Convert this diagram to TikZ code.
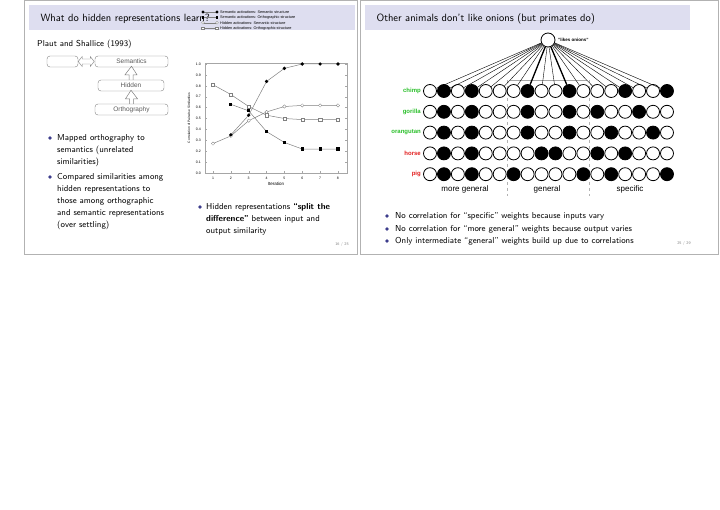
\documentclass[tikz,border=0pt]{standalone}
\usepackage{fontspec}
\setmainfont{Latin Modern Sans}
\setsansfont{Liberation Sans}
\usetikzlibrary{arrows.meta}
\definecolor{titlebg}{RGB}{222,222,240}
\definecolor{bul}{RGB}{60,60,140}
\definecolor{prim}{RGB}{40,190,40}
\definecolor{oth}{RGB}{225,30,30}
\tikzset{
 txt/.style={anchor=west,inner sep=0,font=\fontsize{8.6}{10}\selectfont},
 bullet/.style={circle,fill=bul,inner sep=0,minimum size=3.6pt},
 lbox/.style={draw=gray,rounded corners=3pt,inner sep=0,font=\sffamily\fontsize{6.5}{7}\selectfont,text=gray!70!black},
 unit/.style={circle,draw,thick,minimum size=13pt,inner sep=0,fill=white},
 tick/.style={font=\sffamily\fontsize{3.5}{4}\selectfont,inner sep=0},
 leg/.style={anchor=west,font=\sffamily\fontsize{3.8}{4}\selectfont,inner sep=0},
 ser/.style={gray,line width=0.5pt},
 msq/.style={draw=gray,fill=white,line width=0.3pt,minimum size=3.2pt,inner sep=0},
 mci/.style={msq,circle,minimum size=3.4pt},
 fsq/.style={fill=black,minimum size=3.2pt,inner sep=0},
 fci/.style={fill=black,circle,minimum size=3.6pt,inner sep=0},
}
\begin{document}
\begin{tikzpicture}[x=1pt,y=-1pt]
\useasboundingbox (0,0) rectangle (720,510);
% frames
\draw[gray!60] (24,0) rectangle (357,254);
\draw[gray!60] (360,0) rectangle (718,254);
\fill[titlebg] (29,5) rectangle (355,30);
\fill[titlebg] (365,5) rectangle (690,30);
\node[anchor=west,font=\fontsize{10.5}{12}\selectfont] (t1) at (37,19) {What do hidden representations learn?};
\node[anchor=west,font=\fontsize{10.5}{12}\selectfont] (t2) at (373,19) {Other animals don't like onions (but primates do)};
% left
\node[txt] (ps) at (37,44) {Plaut and Shallice (1993)};
\node[lbox,minimum width=73pt,minimum height=11pt] (sem) at (131.5,61.5) {Semantics};
\node[lbox,minimum width=31pt,minimum height=11pt] (blank) at (62.5,61.5) {};
\node[lbox,minimum width=66pt,minimum height=11pt] (hid) at (131,85.5) {Hidden};
\node[lbox,minimum width=73pt,minimum height=11pt] (orth) at (131.5,109.5) {Orthography};
\draw[gray] (blank.east) -- ++(4,-5) -- ++(0,2.5) -- ++(8,0) -- ++(0,-2.5) -- ++(4,5) -- ++(-4,5) -- ++(0,-2.5) -- ++(-8,0) -- ++(0,2.5) -- cycle;
\foreach \a/\b in {hid/sem,orth/hid}{
 \draw[gray,line width=0.5pt] ([xshift=-2pt]\a.north) -- ([xshift=-2pt,yshift=5pt]\a.north) -- ([xshift=-6pt,yshift=5pt]\a.north) -- ([yshift=1pt]\b.south) -- ([xshift=6pt,yshift=5pt]\a.north) -- ([xshift=2pt,yshift=5pt]\a.north) -- ([xshift=2pt]\a.north);
}
\node[bullet] (b1) at (50,138) {};
\node[txt] at (57,138) {Mapped orthography to};
\node[txt] at (57,150) {semantics (unrelated};
\node[txt] at (57,162) {similarities)};
\node[bullet] (b2) at (50,177) {};
\node[txt] at (57,177) {Compared similarities among};
\node[txt] at (57,189) {hidden representations to};
\node[txt] at (57,201) {those among orthographic};
\node[txt] at (57,213) {and semantic representations};
\node[txt] at (57,225) {(over settling)};
\node[bullet] (b3) at (200,207) {};
\node[txt] at (206,207) {Hidden representations \textbf{``split the}};
\node[txt] at (206,219) {\textbf{difference''} between input and};
\node[txt] at (206,231) {output similarity};
\node[font=\fontsize{4}{5}\selectfont,text=gray] (p1) at (342,245) {16 / 25};
% chart
\draw[gray!70,line width=0.4pt] (205,63) rectangle (347,173);
\foreach \i/\l in {0/0.0,1/0.1,2/0.2,3/0.3,4/0.4,5/0.5,6/0.6,7/0.7,8/0.8,9/0.9,10/1.0}{
 \node[tick,anchor=east] at (201,173-10.9*\i) {\l};
 \draw[gray!70,line width=0.3pt] (205,173-10.9*\i) -- ++(2,0) (347,173-10.9*\i) -- ++(-2,0);
}
\foreach \i in {1,...,8}{
 \node[tick] at (213+17.85*\i-17.85,178) {\i};
 \draw[gray!70,line width=0.3pt] (213+17.85*\i-17.85,173) -- ++(0,-2);
}
\node[tick,font=\sffamily\fontsize{4.5}{5}\selectfont] (it) at (276,184) {Iteration};
\node[tick,rotate=90,font=\sffamily\fontsize{3.3}{4}\selectfont] (yl) at (189,118) {Correlation of Pairwise Similarities};
\begin{scope}[shift={(195.15,173)},x=17.85pt,y=109pt]
\draw[ser] (1,.81) -- (2,.72) -- (3,.61) -- (4,.53) -- (5,.50) -- (6,.49) -- (7,.49) -- (8,.49);
\draw[ser] (1,.27) -- (2,.34) -- (3,.48) -- (4,.56) -- (5,.61) -- (6,.62) -- (7,.62) -- (8,.62);
\draw[ser] (2,.35) -- (3,.53) -- (4,.84) -- (5,.96) -- (6,1) -- (7,1) -- (8,1);
\draw[ser] (2,.63) -- (3,.57) -- (4,.38) -- (5,.28) -- (6,.22) -- (7,.22) -- (8,.22);
\foreach \x/\v in {1/.81,2/.72,3/.61,4/.53,5/.50,6/.49,7/.49,8/.49} \node[msq] at (\x,\v) {};
\foreach \x/\v in {1/.27,2/.34,3/.48,4/.56,5/.61,6/.62,7/.62,8/.62} \node[mci] at (\x,\v) {};
\foreach \x/\v in {2/.35,3/.53,4/.84,5/.96,6/1,7/1,8/1} \node[fci] at (\x,\v) {};
\foreach \x/\v in {2/.63,3/.57,4/.38,5/.28,6/.22,7/.22,8/.22} \node[fsq] at (\x,\v) {};
\end{scope}
% legend
\foreach \k/\t/\m in {0/Semantic activations: Semantic structure/fci,1/Semantic activations: Orthographic structure/fsq,2/Hidden activations: Semantic structure/mci,3/Hidden activations: Orthographic structure/msq}{
 \draw[ser] (203,12+5.4*\k) -- (217,12+5.4*\k);
 \node[\m,scale=0.85] at (203,12+5.4*\k) {};
 \node[\m,scale=0.85] at (217,12+5.4*\k) {};
 \node[leg] at (220,12+5.4*\k) {\t};
}
% right network
\node[unit,minimum size=14pt] (top) at (548,40) {};
\node[anchor=west,inner sep=0,font=\sffamily\bfseries\fontsize{4.5}{5}\selectfont] (lo) at (558,40) {"likes onions"};
\draw[gray!70,line width=1pt] (510,81) -- (587,81);
\draw[gray!60,dashed,line width=0.4pt] (507,80) -- (507,196) (589,80) -- (589,196);
\foreach \r/\name/\col in {0/chimp/prim,1/gorilla/prim,2/orangutan/prim,3/horse/oth,4/pig/oth}{
 \node[anchor=east,inner sep=0,text=\col,font=\sffamily\bfseries\fontsize{6}{7}\selectfont] (lab\r) at (421,91+20.8*\r) {\name};
 \foreach \c in {1,...,18}
  \node[unit] (u\r-\c) at (430+13.94*\c-13.94,91+20.8*\r) {};
}
\foreach \c in {1,...,18} \draw[line width=0.4pt] (top) -- (u0-\c);
\draw[line width=1.3pt] (top) -- (u0-8) (top) -- (u0-11);
\foreach \rc in {0-2,0-4,0-8,0-11,0-15,0-18,1-2,1-4,1-8,1-11,1-13,1-16,2-2,2-4,2-8,2-11,2-14,2-17,3-2,3-4,3-9,3-10,3-13,3-15,4-2,4-4,4-7,4-12,4-14,4-18}
 \fill (u\rc) circle (6.5pt);
\node[font=\sffamily\fontsize{8}{9}\selectfont] (g1) at (465,189) {more general};
\node[font=\sffamily\fontsize{8}{9}\selectfont] (g2) at (547,189) {general};
\node[font=\sffamily\fontsize{8}{9}\selectfont] (g3) at (630,189) {specific};
\node[bullet] at (387,216) {};
\node[txt] at (395,216) {No correlation for ``specific'' weights because inputs vary};
\node[bullet] at (387,229) {};
\node[txt] at (395,229) {No correlation for ``more general'' weights because output varies};
\node[bullet] at (387,241) {};
\node[txt] at (395,241) {Only intermediate ``general'' weights build up due to correlations};
\node[font=\fontsize{4}{5}\selectfont,text=gray] (p2) at (684,244) {25 / 29};
\end{tikzpicture}
\end{document}
